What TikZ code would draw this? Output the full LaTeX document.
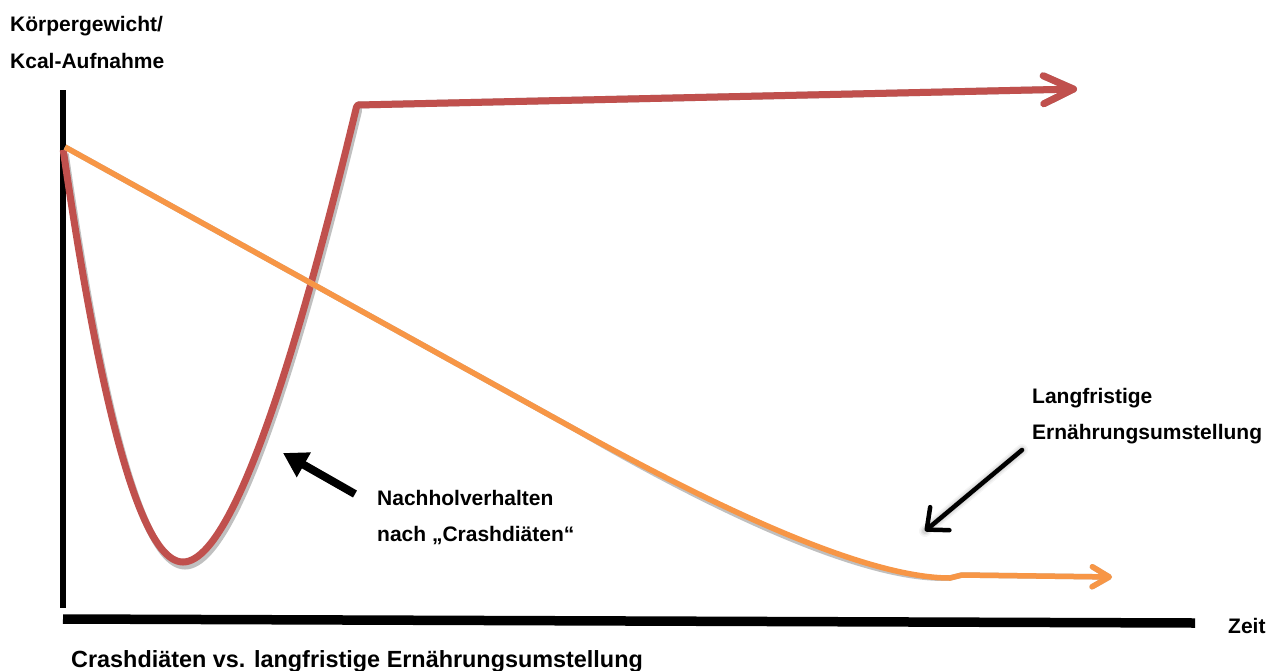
\documentclass[tikz,border=0pt]{standalone}
\usepackage{fontspec}
\setmainfont{Liberation Sans}
\usetikzlibrary{arrows.meta}
\definecolor{cred}{RGB}{192,80,77}
\definecolor{corange}{RGB}{247,150,70}
\definecolor{cshadow}{RGB}{192,192,192}
\begin{document}
\begin{tikzpicture}[x=1pt,y=-1pt,
  lbl/.style={inner sep=0pt, anchor=base west, font=\fontsize{21}{25}\selectfont\bfseries},
  ttl/.style={inner sep=0pt, anchor=base west, font=\fontsize{23.4}{27}\selectfont\bfseries},
  redline/.style={line width=7pt, line join=round, -{Straight Barb[length=30pt,width=28pt,round]}},
  orangeline/.style={line width=5.5pt, -{Straight Barb[length=17pt,width=20pt,round]}},
  axisline/.style={draw=black}
]
\useasboundingbox (0,0) rectangle (1276,670);
% coordinates
\coordinate (ytop) at (63,90);
\coordinate (ybot) at (63,608);
\coordinate (xl) at (63,619);
\coordinate (xr) at (1195,623);
\coordinate (rhs) at (358,105);
\coordinate (rend) at (1077,89);
\coordinate (os) at (65,147);
\coordinate (oa) at (580,432);
\coordinate (ob) at (950,578);
\coordinate (ok) at (962,575);
\coordinate (oend) at (1112,577);
\coordinate (a1s) at (355,494);
\coordinate (a1e) at (283,453);
\coordinate (a2s) at (1022,450);
\coordinate (a2e) at (925,531);
% axes
\draw[axisline, line width=5.5pt] (ytop) -- (ybot);
\draw[axisline, line width=9.5pt] (xl) -- (xr);
% red curve
\def\redcurve{plot[domain=20.3:0, samples=45, variable=\s] ({183-5.9*\s},{562-\s*\s}) -- plot[domain=0:21.33, samples=45, variable=\s] ({183+6*\s+0.1*\s*\s},{562-\s*\s}) -- (rhs) -- (rend)}
\begin{scope}[shift={(2,4)}]
  \draw[redline, cshadow] \redcurve;
\end{scope}
\draw[redline, cred] \redcurve;
% orange curve
\def\orangecurve{(os) -- (oa) .. controls (700,498) and (860,578) .. (ob) -- (ok) -- (oend)}
\begin{scope}[shift={(1.5,4.5)}]
  \draw[orangeline, cshadow] \orangecurve;
\end{scope}
\draw[orangeline, corange] \orangecurve;
% black arrows
\draw[line width=8pt, -{Triangle[length=24pt,width=27pt]}] (a1s) -- (a1e);
\begin{scope}[shift={(3,5)}]
  \draw[line width=12pt, black, opacity=0.04, line cap=round] (a2s) -- (a2e);
  \draw[line width=9pt, black, opacity=0.06, line cap=round] (a2s) -- (a2e);
  \draw[line width=6pt, black, opacity=0.08, line cap=round] (a2s) -- (a2e);
\end{scope}
\draw[line width=4.5pt, line cap=round, -{Straight Barb[length=17pt,width=30pt,round]}] (a2s) -- (a2e);
% labels
\node[lbl] (ylab1) at (10,31) {Körpergewicht/};
\node[lbl] (ylab2) at (10,68) {Kcal-Aufnahme};
\node[lbl] (n1) at (377,505) {Nachholverhalten};
\node[lbl] (n2) at (377,541) {nach „Crashdiäten“};
\node[lbl] (l1) at (1032,403) {Langfristige};
\node[lbl] (l2) at (1032,439) {Ernährungsumstellung};
\node[lbl] (zeit) at (1228,633) {Zeit};
\node[ttl] (title) at (71,667) {Crashdiäten vs. langfristige Ernährungsumstellung};
\end{tikzpicture}
\end{document}
